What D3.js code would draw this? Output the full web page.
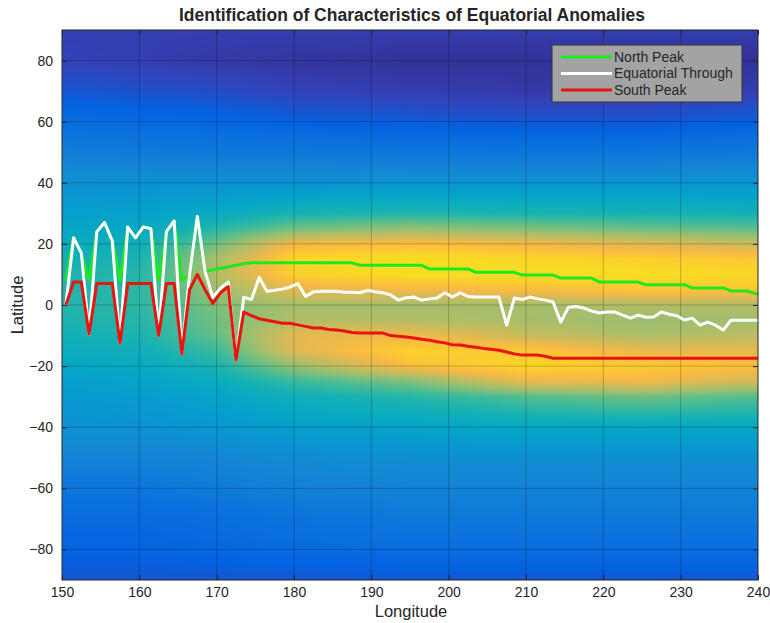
<!DOCTYPE html>
<html lang="en">
<head>
<meta charset="UTF-8">
<title>Equatorial Anomalies</title>
<script src="https://d3js.org/d3.v7.min.js"></script>
<style>
  body { margin: 0; background: #fff; }
  text { font-family: "Liberation Sans", Arial, sans-serif; fill: #262626; }
</style>
</head>
<body>
<svg id="chart" width="770" height="623"></svg>
<script>
// longitude samples of the three traces
const lon = [150.5, 151.5, 152.5, 153.5, 154.5, 155.5, 156.5, 157.5, 158.5, 159.5,
  160.5, 161.5, 162.5, 163.5, 164.5, 165.5, 166.5, 167.5, 168.5, 169.5,
  170.5, 171.5, 172.5, 173.5, 174.5, 175.5, 176.5, 177.5, 178.5, 179.5,
  180.5, 181.5, 182.5, 183.5, 184.5, 185.5, 186.5, 187.5, 188.5, 189.5,
  190.5, 191.5, 192.5, 193.5, 194.5, 195.5, 196.5, 197.5, 198.5, 199.5,
  200.5, 201.5, 202.5, 203.5, 204.5, 205.5, 206.5, 207.5, 208.5, 209.5,
  210.5, 211.5, 212.5, 213.5, 214.5, 215.5, 216.5, 217.5, 218.5, 219.5,
  220.5, 221.5, 222.5, 223.5, 224.5, 225.5, 226.5, 227.5, 228.5, 229.5,
  230.5, 231.5, 232.5, 233.5, 234.5, 235.5, 236.5, 237.5, 238.5, 239.5, 240];

const northPeak = [8, 22, 17, 8, 24, 27, 21, 8, 25.5, 22,
  25.5, 25, 8, 24, 27.5, 8, 10, 29, 11, 11.5,
  12, 12.5, 13, 13.5, 13.8, 13.8, 13.8, 13.8, 13.8, 13.8,
  13.8, 13.8, 13.8, 13.8, 13.8, 13.8, 13.8, 13.8, 13, 13,
  13, 13, 13, 13, 13, 13, 13, 11.8, 11.8, 11.8,
  11.8, 11.8, 11.8, 10.7, 10.7, 10.7, 10.7, 10.7, 10.7, 9.8,
  9.8, 9.8, 9.8, 9.8, 8.8, 8.8, 8.8, 8.8, 8.8, 7.5,
  7.5, 7.5, 7.5, 7.5, 7.5, 6.6, 6.6, 6.6, 6.6, 6.6,
  6.6, 5.6, 5.6, 5.6, 5.6, 5.6, 4.6, 4.6, 4.6, 3.9, 3.5];

const equatorialThrough = [0, 22, 17, -9.5, 24, 27, 21, -12.5, 25.5, 22,
  25.5, 25, -10, 24, 27.5, -16, 10, 29, 11, 2.5,
  5.5, 7.5, -18, 2.5, 1.8, 9, 4.5, 4.8, 5.2, 5.9,
  7, 2.8, 4.3, 4.5, 4.5, 4.5, 4.2, 4.2, 4, 4.8,
  4.3, 4, 3.3, 1.6, 2.4, 2.6, 1.6, 2, 2.3, 4,
  2.6, 4, 2.8, 2.6, 2.6, 2.6, 2.6, -6.6, 2.3, 1.8,
  2.6, 2, 1.6, 1, -5.6, -0.7, -0.5, -1, -2, -2.6,
  -2.3, -2.3, -3.3, -4.3, -3.3, -4, -3.9, -2.3, -3, -3.5,
  -4.9, -4.3, -6.6, -5.6, -6.6, -8.2, -5, -5, -5, -5, -5];

const southPeak = [0, 7.5, 7.5, -9.5, 7, 7, 7, -12.5, 7, 7,
  7, 7, -10, 7, 7, -16, 5, 10, 5, 0.5,
  4, 6, -18, -2.3, -3.5, -4.5, -5, -5.5, -6, -6,
  -6.5, -7, -7.5, -7.5, -8, -8.2, -8.5, -9, -9.2, -9.2,
  -9.2, -9.2, -10, -10.2, -10.5, -10.8, -11.2, -11.5, -12, -12.4,
  -13, -13.1, -13.5, -13.8, -14.2, -14.5, -14.8, -15.4, -16, -16.4,
  -16.4, -16.4, -16.8, -17.4, -17.4, -17.4, -17.4, -17.4, -17.4, -17.4,
  -17.4, -17.4, -17.4, -17.4, -17.4, -17.4, -17.4, -17.4, -17.4, -17.4,
  -17.4, -17.4, -17.4, -17.4, -17.4, -17.4, -17.4, -17.4, -17.4, -17.4, -17.4];

const xTicks = [150, 160, 170, 180, 190, 200, 210, 220, 230, 240];
const yTicks = [-80, -60, -40, -20, 0, 20, 40, 60, 80];

// background field (normalised 0..1), rows = latitude, columns = longitude
const gridLon = [150, 160, 170, 180, 195, 210, 225, 240];
const gridLat = [90, 80, 70, 60, 50, 40, 30, 25, 20, 15, 10, 5, 0, -5, -10, -15, -20, -25, -30, -40, -50, -60, -70, -80, -90];
const field = [
  [0.05, 0.05, 0.05, 0.05, 0.05, 0.05, 0.05, 0.05],
  [0.06, 0.05, 0.04, 0.03, 0.02, 0.02, 0.02, 0.02],
  [0.1, 0.09, 0.08, 0.06, 0.05, 0.04, 0.04, 0.05],
  [0.16, 0.15, 0.14, 0.12, 0.11, 0.1, 0.1, 0.12],
  [0.22, 0.21, 0.2, 0.2, 0.19, 0.19, 0.19, 0.2],
  [0.29, 0.29, 0.29, 0.29, 0.3, 0.3, 0.3, 0.3],
  [0.34, 0.35, 0.39, 0.44, 0.46, 0.45, 0.44, 0.43],
  [0.37, 0.38, 0.47, 0.58, 0.63, 0.6, 0.57, 0.55],
  [0.4, 0.42, 0.58, 0.8, 0.83, 0.8, 0.76, 0.72],
  [0.43, 0.45, 0.66, 0.9, 0.92, 0.9, 0.88, 0.86],
  [0.45, 0.47, 0.68, 0.88, 0.92, 0.92, 0.92, 0.9],
  [0.46, 0.48, 0.64, 0.77, 0.8, 0.82, 0.85, 0.85],
  [0.46, 0.48, 0.6, 0.66, 0.66, 0.66, 0.68, 0.68],
  [0.45, 0.47, 0.58, 0.68, 0.68, 0.66, 0.64, 0.65],
  [0.43, 0.45, 0.56, 0.77, 0.8, 0.72, 0.67, 0.7],
  [0.4, 0.42, 0.5, 0.76, 0.88, 0.86, 0.78, 0.78],
  [0.37, 0.39, 0.45, 0.63, 0.83, 0.9, 0.86, 0.83],
  [0.34, 0.36, 0.4, 0.5, 0.6, 0.78, 0.8, 0.73],
  [0.32, 0.33, 0.36, 0.42, 0.47, 0.54, 0.58, 0.54],
  [0.29, 0.29, 0.31, 0.34, 0.36, 0.38, 0.38, 0.38],
  [0.24, 0.24, 0.25, 0.27, 0.28, 0.28, 0.28, 0.28],
  [0.19, 0.19, 0.21, 0.23, 0.24, 0.24, 0.24, 0.24],
  [0.15, 0.15, 0.16, 0.18, 0.2, 0.2, 0.2, 0.2],
  [0.13, 0.13, 0.14, 0.15, 0.16, 0.16, 0.16, 0.16],
  [0.1, 0.1, 0.1, 0.1, 0.1, 0.1, 0.1, 0.1]
];

// parula colormap stops
const parula = ["#352a87", "#3243ba", "#0363e1", "#0d75dc", "#1485d4", "#0998d1",
  "#06a7c6", "#15b1b4", "#38b99e", "#65be86", "#92bf73", "#b7bd64",
  "#d9ba56", "#f8ba44", "#fcce2e", "#f5e41d", "#f9fb0e"];
const colour = d3.scaleLinear()
  .domain(d3.range(parula.length).map(i => i / (parula.length - 1)))
  .range(parula)
  .clamp(true);

const svg = d3.select("#chart");
const margin = {top: 30, right: 12, bottom: 43, left: 62};
const width = 770 - margin.left - margin.right;
const height = 623 - margin.top - margin.bottom;

const x = d3.scaleLinear().domain([150, 240]).range([0, width]);
const y = d3.scaleLinear().domain([-90, 90]).range([height, 0]);

const g = svg.append("g").attr("transform", `translate(${margin.left},${margin.top})`);

// heat map, interpolated between grid nodes (like shading interp)
function valueAt(lo, la) {
  let i = Math.min(Math.max(d3.bisectRight(gridLon, lo) - 1, 0), gridLon.length - 2);
  let j = 0;
  while (j < gridLat.length - 2 && la < gridLat[j + 1]) j++;
  const tx = (lo - gridLon[i]) / (gridLon[i + 1] - gridLon[i]);
  const ty = (gridLat[j] - la) / (gridLat[j] - gridLat[j + 1]);
  const a = field[j][i] * (1 - tx) + field[j][i + 1] * tx;
  const b = field[j + 1][i] * (1 - tx) + field[j + 1][i + 1] * tx;
  return a * (1 - ty) + b * ty;
}
const canvas = document.createElement("canvas");
canvas.width = width;
canvas.height = height;
const ctx = canvas.getContext("2d");
const img = ctx.createImageData(width, height);
for (let py = 0; py < height; py++) {
  const la = y.invert(py + 0.5);
  for (let px = 0; px < width; px++) {
    const c = d3.rgb(colour(valueAt(x.invert(px + 0.5), la)));
    const k = (py * width + px) * 4;
    img.data[k] = c.r; img.data[k + 1] = c.g; img.data[k + 2] = c.b; img.data[k + 3] = 255;
  }
}
ctx.putImageData(img, 0, 0);
g.append("image")
  .attr("width", width).attr("height", height)
  .attr("href", canvas.toDataURL());

// grid
g.append("g").selectAll("line").data(xTicks.slice(1, -1)).join("line")
  .attr("x1", d => x(d)).attr("x2", d => x(d))
  .attr("y1", 0).attr("y2", height)
  .attr("stroke", "#000").attr("stroke-opacity", 0.22);
g.append("g").selectAll("line").data(yTicks).join("line")
  .attr("x1", 0).attr("x2", width)
  .attr("y1", d => y(d)).attr("y2", d => y(d))
  .attr("stroke", "#000").attr("stroke-opacity", 0.22);

// axes
g.append("g").attr("transform", `translate(0,${height})`)
  .call(d3.axisBottom(x).tickValues(xTicks).tickSizeInner(-5).tickSizeOuter(0).tickPadding(7));
g.append("g")
  .call(d3.axisLeft(y).tickValues(yTicks).tickSizeInner(-5).tickSizeOuter(0).tickPadding(9));
g.append("g")
  .call(d3.axisTop(x).tickValues(xTicks).tickSizeInner(-5).tickSizeOuter(0).tickFormat(""));
g.append("g").attr("transform", `translate(${width},0)`)
  .call(d3.axisRight(y).tickValues(yTicks).tickSizeInner(-5).tickSizeOuter(0).tickFormat(""));
g.selectAll(".domain").remove();
g.selectAll(".tick line").attr("stroke", "#262626");
g.selectAll(".tick text").attr("font-size", 14).attr("fill", "#262626");

// traces
const series = [
  {name: "North Peak", values: northPeak, color: "#1ee81e"},
  {name: "Equatorial Through", values: equatorialThrough, color: "#ffffff"},
  {name: "South Peak", values: southPeak, color: "#e8140f"}
];
const line = d3.line().x((d, i) => x(lon[i])).y(d => y(d));
g.append("g").selectAll("path").data(series).join("path")
  .attr("d", d => line(d.values))
  .attr("fill", "none")
  .attr("stroke", d => d.color)
  .attr("stroke-width", 3)
  .attr("stroke-linejoin", "round");

// box
g.append("rect").attr("width", width).attr("height", height)
  .attr("fill", "none").attr("stroke", "#262626").attr("stroke-width", 1);

// legend
const legend = svg.append("g").attr("transform", "translate(552,45)");
legend.append("rect").attr("width", 190).attr("height", 57)
  .attr("fill", "#a3a3a3").attr("stroke", "#333");
const item = legend.selectAll(".item").data(series).join("g")
  .attr("transform", (d, i) => `translate(0,${12 + i * 16.5})`);
item.append("line").attr("x1", 9).attr("x2", 60)
  .attr("stroke", d => d.color).attr("stroke-width", 3);
item.append("text").attr("x", 62).attr("dy", "0.35em")
  .attr("font-size", 14).text(d => d.name);

// labels
svg.append("text").attr("x", 412).attr("y", 21).attr("text-anchor", "middle")
  .attr("font-size", 17.5).attr("font-weight", "bold")
  .text("Identification of Characteristics of Equatorial Anomalies");
svg.append("text").attr("x", 411).attr("y", 617).attr("text-anchor", "middle")
  .attr("font-size", 16.5).text("Longitude");
svg.append("text").attr("transform", "translate(23,305) rotate(-90)")
  .attr("text-anchor", "middle").attr("font-size", 16.5).text("Latitude");
</script>
</body>
</html>
